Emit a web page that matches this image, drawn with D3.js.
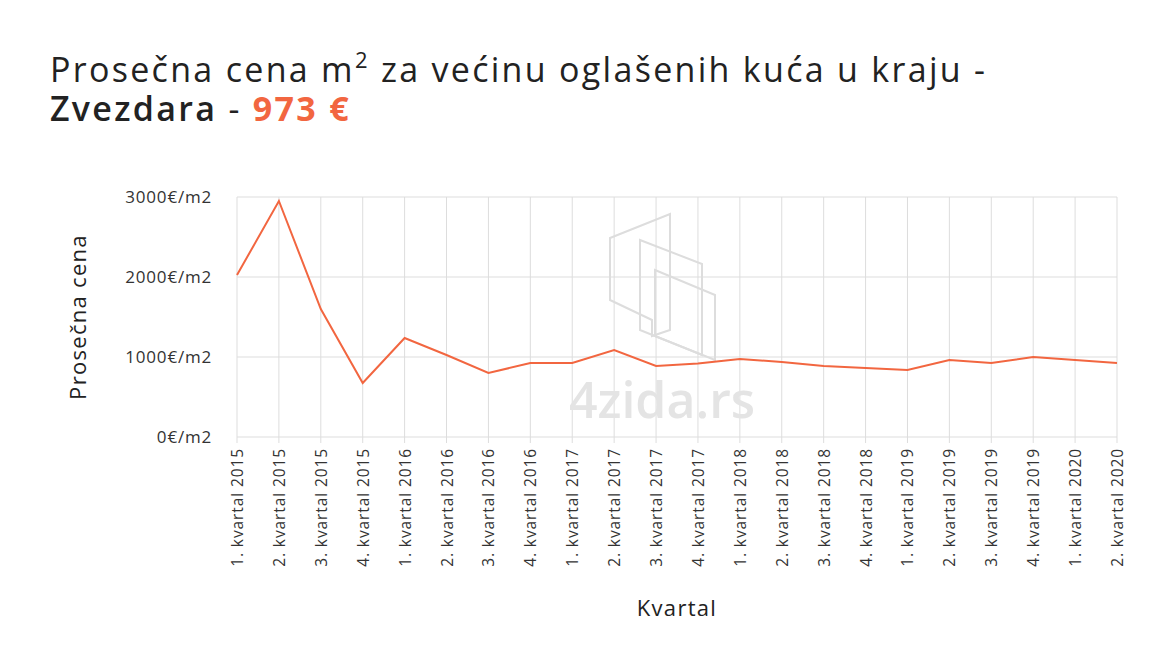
<!DOCTYPE html>
<html><head><meta charset="utf-8">
<script src="https://cdn.jsdelivr.net/npm/d3@7"></script>
<style>body{margin:0;background:#fff;font-family:'Open Sans',sans-serif}</style>
</head><body>
<svg id="c" width="1176" height="659"></svg>
<script>
const categories=["1. kvartal 2015","2. kvartal 2015","3. kvartal 2015","4. kvartal 2015","1. kvartal 2016","2. kvartal 2016","3. kvartal 2016","4. kvartal 2016","1. kvartal 2017","2. kvartal 2017","3. kvartal 2017","4. kvartal 2017","1. kvartal 2018","2. kvartal 2018","3. kvartal 2018","4. kvartal 2018","1. kvartal 2019","2. kvartal 2019","3. kvartal 2019","4. kvartal 2019","1. kvartal 2020","2. kvartal 2020"];
const values=[2025,2950,1600,675,1238,1025,800,925,925,1088,888,920,975,938,888,863,838,963,925,1000,963,925];
const yTicks=[0,1000,2000,3000];
const svg=d3.select("#c");
const m={l:237,r:1117,t:197,b:437};
const x=d3.scalePoint().domain(categories).range([m.l,m.r]);
const y=d3.scaleLinear().domain([0,3000]).range([m.b,m.t]);
const t=svg.append("text").attr("x",50).attr("y",82).attr("font-size",34).attr("letter-spacing",2.3).attr("fill","#222");
t.append("tspan").text("Prosečna cena m");
t.append("tspan").text("2").attr("font-size",22).attr("dy",-14);
t.append("tspan").text(" za većinu oglašenih kuća u kraju -").attr("dy",14);
const t2=svg.append("text").attr("x",50).attr("y",121).attr("font-size",34).attr("letter-spacing",2.3).attr("fill","#222");
t2.append("tspan").text("Zvezdara").attr("font-weight",600);
t2.append("tspan").text(" - ");
t2.append("tspan").text("973 €").attr("font-weight",700).attr("fill","#f26640");
svg.append("g").selectAll("line").data(yTicks).join("line")
 .attr("x1",m.l).attr("x2",m.r).attr("y1",d=>y(d)).attr("y2",d=>y(d)).attr("stroke","#ddd");
svg.append("g").selectAll("line").data(categories).join("line")
 .attr("x1",d=>x(d)).attr("x2",d=>x(d)).attr("y1",m.t).attr("y2",m.b+6).attr("stroke","#ddd");
const wm=svg.append("g").attr("fill","none").attr("stroke","#ddd").attr("stroke-width",2);
wm.append("path").attr("d","M610,238 L670,214 L670,330 L652,336 L652,320 L610,300 Z");
wm.append("path").attr("d","M640,240 L702,264 L702,355 L640,330 Z");
wm.append("path").attr("d","M655,270 L715,295 L715,360 L655,336 Z");
svg.append("text").attr("x",662).attr("y",418).attr("text-anchor","middle").attr("font-size",50).attr("fill","#e4e4e4").attr("font-weight",600).text("4zida.rs");
svg.append("g").selectAll("text").data(yTicks).join("text")
 .attr("x",212).attr("y",d=>y(d)+6).attr("text-anchor","end").attr("font-size",17).attr("letter-spacing",0.8).attr("fill","#333").text(d=>d+"€/m2");
svg.append("g").selectAll("text").data(categories).join("text")
 .attr("transform",d=>`translate(${x(d)+6},448) rotate(-90)`).attr("text-anchor","end")
 .attr("font-size",15.5).attr("letter-spacing",0.9).attr("fill","#333").text(d=>d);
svg.append("path").datum(values).attr("fill","none").attr("stroke","#f26640").attr("stroke-width",2)
 .attr("d",d3.line().x((d,i)=>x(categories[i])).y(d=>y(d)));
svg.append("text").attr("transform","translate(86,317) rotate(-90)").attr("text-anchor","middle").attr("font-size",22).attr("letter-spacing",1.3).attr("fill","#222").text("Prosečna cena");
svg.append("text").attr("x",677).attr("y",616).attr("text-anchor","middle").attr("font-size",22).attr("letter-spacing",1.3).attr("fill","#222").text("Kvartal");
</script></body></html>
